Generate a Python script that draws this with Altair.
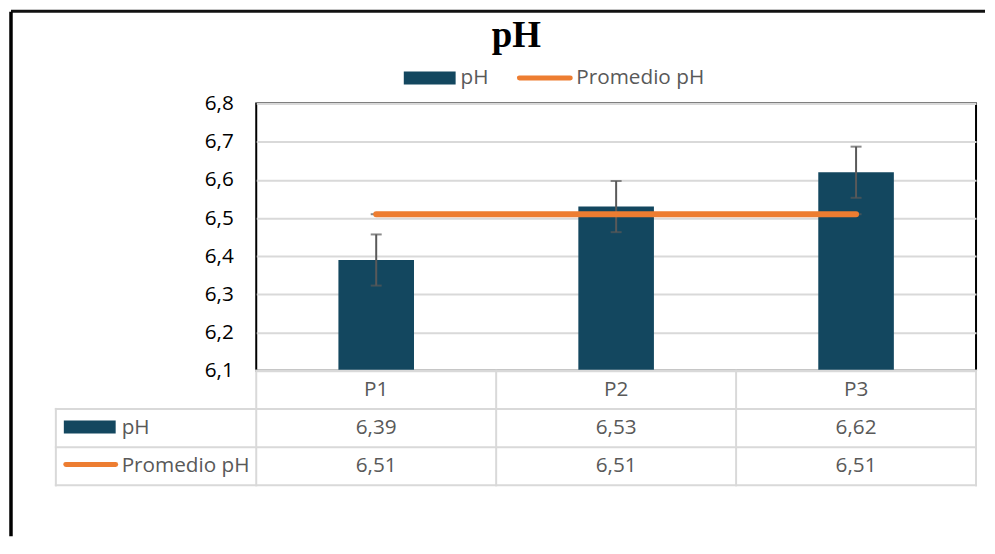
import altair as alt
import pandas as pd

# ---------------- data ----------------
categories = ["P1", "P2", "P3"]
ph_values = [6.39, 6.53, 6.62]
ph_errors = [0.067, 0.067, 0.067]
avg_values = [6.51, 6.51, 6.51]
y_ticks = [6.1, 6.2, 6.3, 6.4, 6.5, 6.6, 6.7, 6.8]
series_names = ["pH", "Promedio pH"]
chart_title = "pH"

# ---------------- style ----------------
TEAL = "#13475F"
ORANGE = "#ED7D31"
GRAY = "#595959"
GRID = "#D9D9D9"
FONT = "Open Sans"
FS = 20.8

PLOT_W, PLOT_H = 722, 268
LABEL_COL = 201
HEADER_H = 94
TABLE_H = 115


def fmt(v):
    return f"{v:.2f}".replace(".", ",")


df = pd.DataFrame({"cat": categories, "ph": ph_values, "err": ph_errors, "avg": avg_values})
df["lo"] = df["ph"] - df["err"]
df["hi"] = df["ph"] + df["err"]

one = pd.DataFrame({"k": [0]})

# ---------------- header (title + legend); x measured from the plot's left edge ----------------
hb = alt.Chart(one)
top_border = hb.mark_rule(color="#111111", strokeWidth=3).encode(
    x=alt.value(-246), x2=alt.value(731), y=alt.value(1.5))
left_border = hb.mark_rule(color="#000000", strokeWidth=3.5).encode(
    x=alt.value(-246), y=alt.value(2), y2=alt.value(528))
title = hb.mark_text(text=chart_title, font="Liberation Serif", fontWeight="bold",
                     fontSize=37, color="#000000", align="center", baseline="middle").encode(
    x=alt.value(261), y=alt.value(26))
leg_rect = hb.mark_rect(color=TEAL).encode(
    x=alt.value(148), x2=alt.value(200), y=alt.value(62), y2=alt.value(75))
leg_t1 = hb.mark_text(text=series_names[0], font=FONT, fontSize=FS, color=GRAY,
                      align="left", baseline="middle").encode(x=alt.value(205), y=alt.value(68))
leg_line = hb.mark_rule(color=ORANGE, strokeWidth=5, strokeCap="round").encode(
    x=alt.value(264), x2=alt.value(315), y=alt.value(68.5))
leg_t2 = hb.mark_text(text=series_names[1], font=FONT, fontSize=FS, color=GRAY,
                      align="left", baseline="middle").encode(x=alt.value(321), y=alt.value(68))
header = alt.layer(top_border, left_border, title, leg_rect, leg_t1, leg_line, leg_t2).properties(
    width=PLOT_W, height=HEADER_H)

# ---------------- main plot ----------------
x_enc = alt.X("cat:N", sort=categories,
              scale=alt.Scale(domain=categories, paddingInner=0.685, paddingOuter=0.3425),
              axis=None)
y_scale = alt.Scale(domain=[6.1, 6.8], zero=False, nice=False)
y_axis = alt.Axis(values=y_ticks, format=".1f",
                  labelExpr="replace(datum.label, '.', ',')",
                  grid=True, gridColor=GRID, gridWidth=2,
                  domain=False, ticks=False, tickSize=0, labelPadding=23,
                  labelFontSize=FS, labelColor="#000000", labelFont=FONT,
                  title=None)

base = alt.Chart(df).encode(x=x_enc)
bars = base.mark_bar(color=TEAL).encode(
    y=alt.Y("ph:Q", scale=y_scale, axis=y_axis),
    y2=alt.datum(y_ticks[0]))
err_rule = base.mark_rule(color=GRAY, strokeWidth=2).encode(
    y=alt.Y("lo:Q", scale=y_scale, axis=y_axis), y2="hi:Q")
err_caps = alt.Chart(df).transform_fold(["lo", "hi"], as_=["k", "v"]).mark_tick(
    color=GRAY, size=11, thickness=2).encode(x=x_enc, y=alt.Y("v:Q", scale=y_scale, axis=y_axis))
avg_caps = base.mark_tick(color=GRAY, size=11, thickness=2).encode(
    y=alt.Y("avg:Q", scale=y_scale, axis=y_axis))
avg_line = base.mark_line(color=ORANGE, strokeWidth=6, strokeCap="round").encode(
    y=alt.Y("avg:Q", scale=y_scale, axis=y_axis))

main = alt.layer(bars, err_rule, err_caps, avg_caps, avg_line).properties(
    width=PLOT_W, height=PLOT_H, view=alt.ViewBackground(stroke="#000000", strokeWidth=2))

# ---------------- data table (label column extends left of the plot) ----------------
band = PLOT_W / len(categories)
col_left = -LABEL_COL / band
ncol = len(categories)
tx = alt.Scale(domain=[0, ncol], nice=False, zero=False)
ty = alt.Scale(domain=[0, 3], nice=False, zero=False, reverse=True)

cells = []
for i, c in enumerate(categories):
    cells.append({"cx": i + 0.5, "cy": 0.5, "t": c})
    cells.append({"cx": i + 0.5, "cy": 1.5, "t": fmt(ph_values[i])})
    cells.append({"cx": i + 0.5, "cy": 2.5, "t": fmt(avg_values[i])})
cells = pd.DataFrame(cells)

hlines = pd.DataFrame({"x1": [0, col_left, col_left, col_left],
                       "x2": [ncol, ncol, ncol, ncol],
                       "y": [0, 1, 2, 3]})
vlines = pd.DataFrame({"x": [col_left] + list(range(ncol + 1)),
                       "y1": [1] + [0] * (ncol + 1),
                       "y2": [3] * (ncol + 2)})
rows = pd.DataFrame({"name": series_names, "cy": [1.5, 2.5]})

t_h = alt.Chart(hlines).mark_rule(color=GRID, strokeWidth=2, strokeCap="square").encode(
    x=alt.X("x1:Q", scale=tx, axis=None), x2="x2:Q", y=alt.Y("y:Q", scale=ty, axis=None))
t_v = alt.Chart(vlines).mark_rule(color=GRID, strokeWidth=2, strokeCap="square").encode(
    x=alt.X("x:Q", scale=tx, axis=None), y=alt.Y("y1:Q", scale=ty, axis=None), y2="y2:Q")
t_txt = alt.Chart(cells).mark_text(font=FONT, fontSize=FS, color=GRAY, align="center",
                                   baseline="middle").encode(
    x=alt.X("cx:Q", scale=tx, axis=None), y=alt.Y("cy:Q", scale=ty, axis=None), text="t:N")
t_rows = alt.Chart(rows).mark_text(font=FONT, fontSize=FS, color=GRAY, align="left",
                                   baseline="middle").encode(
    x=alt.value(-135), y=alt.Y("cy:Q", scale=ty, axis=None), text="name:N")
sw_rect = alt.Chart(one).mark_rect(color=TEAL).encode(
    x=alt.value(-193), x2=alt.value(-141), y=alt.value(50), y2=alt.value(63))
sw_line = alt.Chart(one).mark_rule(color=ORANGE, strokeWidth=5, strokeCap="round").encode(
    x=alt.value(-191), x2=alt.value(-141), y=alt.value(94))

table = alt.layer(t_h, t_v, t_txt, t_rows, sw_rect, sw_line).properties(width=PLOT_W, height=TABLE_H)

chart = alt.vconcat(header, main, table, spacing=0, bounds="flush").properties(
    padding=0
).configure(background="white").configure_view(stroke="transparent")

chart.save("out.html", embed_options={"renderer": "svg", "actions": False})
